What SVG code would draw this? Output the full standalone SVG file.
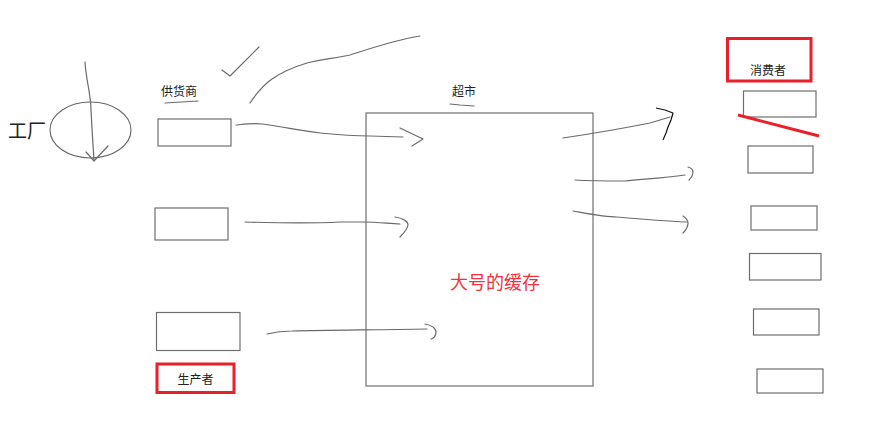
<svg xmlns="http://www.w3.org/2000/svg" width="885" height="441" viewBox="0 0 885 441">
<style>
.box{fill:#fff;stroke:#6e6e6e;stroke-width:1.2}
.red{fill:none;stroke:#e8202a;stroke-width:3}
.ln{fill:none;stroke:#6a6a6a;stroke-width:1.2;stroke-linecap:round;stroke-linejoin:round}
.t{font-family:"Noto Sans CJK SC","Noto Sans",sans-serif;fill:#222}
</style>
<rect width="885" height="441" fill="#fff"/>
<g id="factory">
<text class="t" x="8" y="138" font-size="19">工厂</text>
<ellipse cx="90.5" cy="130" rx="40.5" ry="28" fill="none" stroke="#666" stroke-width="1.1"/>
</g>
<g id="supplier-label">
<text class="t" x="161" y="96" font-size="12">供货商</text>
<path class="ln" d="M165 103 L198 101"/>
</g>
<g id="supplier1"><rect class="box" x="158" y="119" width="73" height="27"/></g>
<g id="supplier2"><rect class="box" x="155" y="208" width="73" height="32"/></g>
<g id="supplier3"><rect class="box" x="156.5" y="312.5" width="83.5" height="38"/></g>
<g id="producer">
<rect class="red" x="157" y="364" width="77" height="28.5"/>
<text class="t" x="195.5" y="384" font-size="12" text-anchor="middle">生产者</text>
</g>
<g id="supermarket">
<text class="t" x="452" y="96" font-size="12">超市</text>
<path class="ln" d="M450 104 L460 105 L474 106"/>
<rect class="box" x="366" y="113" width="227" height="273" fill="none"/>
<text x="495" y="289" font-size="18" text-anchor="middle" font-family="Noto Sans CJK SC,sans-serif" fill="#f2313a">大号的缓存</text>
</g>
<g id="consumer-label">
<rect class="red" x="727.5" y="38.5" width="83.5" height="42.5"/>
<text class="t" x="768" y="75" font-size="12" text-anchor="middle">消费者</text>
</g>
<g id="consumer1"><rect class="box" x="743.5" y="91" width="72.5" height="26"/></g>
<g id="consumer2"><rect class="box" x="748" y="146" width="65" height="27"/></g>
<g id="consumer3"><rect class="box" x="751" y="206" width="66" height="24"/></g>
<g id="consumer4"><rect class="box" x="749.5" y="253.5" width="71.5" height="26.5"/></g>
<g id="consumer5"><rect class="box" x="753.5" y="309" width="65.5" height="26"/></g>
<g id="consumer6"><rect class="box" x="757" y="369" width="66" height="24"/></g>
<g id="connectors">
<path class="ln" d="M85 62 C86 80 91 95 91 110 C92 130 93 145 94 160"/>
<path class="ln" d="M86 152 L94 161 L108 146"/>
<path class="ln" d="M222 70 L230 76 L259 47"/>
<path class="ln" d="M250 103 C256 94 262 86 272 79 C285 70 297 66 307 63 C320 60 335 58 350 55 C375 47 395 40 420 36"/>
<path class="ln" d="M236 125 C246 124 254 123 262 124 C285 127 300 131 320 133 C340 135 355 136 370 136 L403 137"/>
<path class="ln" d="M400 128 L423 139 L412 146"/>
<path class="ln" d="M245 222 C280 223 320 223 340 222 L363 222 C380 222 390 224 400 224"/>
<path class="ln" d="M395 217 C402 218 408 221 408 225 C407 230 403 234 400 237"/>
<path class="ln" d="M267 334 C275 332 282 331 292 331 C330 330 380 330 427 329"/>
<path class="ln" d="M425 324 C431 325 436 328 436 332 C436 335 434 338 431 339"/>
<path class="ln" d="M563 138 C590 134 620 129 650 123 L670 117"/>
<path fill="none" stroke="#111" stroke-width="1.2" stroke-linejoin="round" d="M656 108 L665 110 L673 113 L671 120 L668 127 L666 133 L663 140"/>
<path class="ln" d="M575 180 C590 181 610 181 625 181 C645 179 665 178 685 175"/>
<path class="ln" d="M688 167 C691 168 693 170 693 172 C693 176 691 178 689 180"/>
<path class="ln" d="M573 211 C590 214 605 217 617 217 C640 219 665 221 687 222"/>
<path class="ln" d="M683 216 C686 218 688 220 688 223 C688 227 686 230 683 233"/>
<path d="M738 115 L819 136" fill="none" stroke="#e8202a" stroke-width="3"/>
</g>
</svg>
